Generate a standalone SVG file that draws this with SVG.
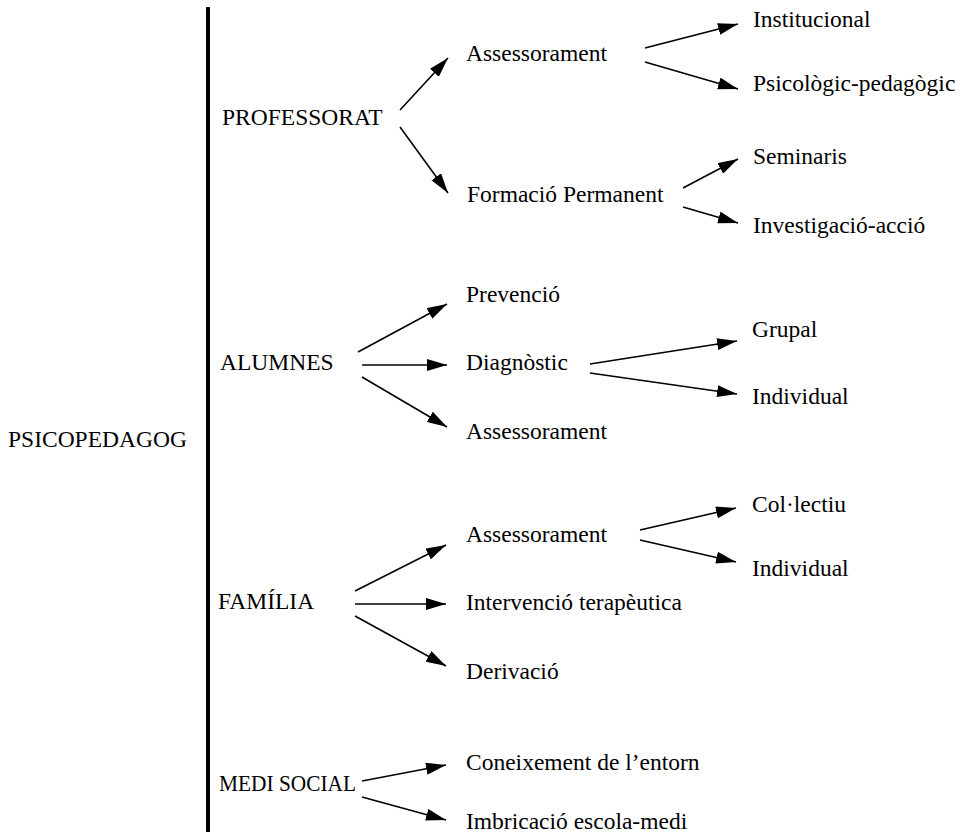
<svg xmlns="http://www.w3.org/2000/svg" width="965" height="836" viewBox="0 0 965 836">
<style>
text{font-family:"Liberation Serif","Times New Roman",serif;font-size:23.5px;fill:#000}
.c{stroke:#000;stroke-width:1.6;fill:none;marker-end:url(#ah)}
</style>
<defs>
<marker id="ah" markerUnits="userSpaceOnUse" markerWidth="20" markerHeight="12" refX="20" refY="6" orient="auto">
<path d="M0,0 L20,6 L0,12 z" fill="#000"/>
</marker>
</defs>
<rect width="965" height="836" fill="#fff"/>
<g id="bar"><line x1="208" y1="7" x2="208" y2="832" stroke="#000" stroke-width="4"/></g>
<g id="n-psicopedagog"><text x="8" y="447">PSICOPEDAGOG</text></g>
<g id="n-professorat"><text x="222" y="125">PROFESSORAT</text></g>
<g id="n-p-assessorament"><text x="466" y="61">Assessorament</text></g>
<g id="n-institucional"><text x="753" y="27">Institucional</text></g>
<g id="n-psicologic"><text x="753" y="91">Psicològic-pedagògic</text></g>
<g id="n-formacio"><text x="467" y="202">Formació Permanent</text></g>
<g id="n-seminaris"><text x="753" y="164">Seminaris</text></g>
<g id="n-investigacio"><text x="753" y="233">Investigació-acció</text></g>
<g id="n-alumnes"><text x="220" y="370">ALUMNES</text></g>
<g id="n-prevencio"><text x="466" y="302">Prevenció</text></g>
<g id="n-diagnostic"><text x="466" y="370">Diagnòstic</text></g>
<g id="n-a-assessorament"><text x="466" y="439">Assessorament</text></g>
<g id="n-grupal"><text x="752" y="337">Grupal</text></g>
<g id="n-a-individual"><text x="752" y="404">Individual</text></g>
<g id="n-familia"><text x="218" y="609">FAMÍLIA</text></g>
<g id="n-f-assessorament"><text x="466" y="542">Assessorament</text></g>
<g id="n-intervencio"><text x="466" y="610">Intervenció terapèutica</text></g>
<g id="n-derivacio"><text x="466" y="679">Derivació</text></g>
<g id="n-collectiu"><text x="752" y="512">Col·lectiu</text></g>
<g id="n-f-individual"><text x="752" y="576">Individual</text></g>
<g id="n-medi"><text x="219" y="791" textLength="137" lengthAdjust="spacingAndGlyphs">MEDI SOCIAL</text></g>
<g id="n-coneixement"><text x="466" y="770">Coneixement de l’entorn</text></g>
<g id="n-imbricacio"><text x="466" y="829">Imbricació escola-medi</text></g>
<g id="connectors">
<line class="c" x1="400" y1="110" x2="448" y2="58"/>
<line class="c" x1="400" y1="127" x2="448" y2="193"/>
<line class="c" x1="645" y1="48" x2="738" y2="24"/>
<line class="c" x1="645" y1="62" x2="738" y2="89"/>
<line class="c" x1="683" y1="188" x2="738" y2="159"/>
<line class="c" x1="683" y1="207" x2="738" y2="223"/>
<line class="c" x1="358" y1="352" x2="447" y2="304"/>
<line class="c" x1="362" y1="365" x2="447" y2="365"/>
<line class="c" x1="362" y1="377" x2="447" y2="427"/>
<line class="c" x1="590" y1="364" x2="737" y2="341"/>
<line class="c" x1="590" y1="373" x2="737" y2="394"/>
<line class="c" x1="355" y1="591" x2="446" y2="545"/>
<line class="c" x1="355" y1="604" x2="446" y2="604"/>
<line class="c" x1="355" y1="616" x2="446" y2="666"/>
<line class="c" x1="640" y1="530" x2="736" y2="508"/>
<line class="c" x1="640" y1="540" x2="736" y2="562"/>
<line class="c" x1="362" y1="781" x2="446" y2="765"/>
<line class="c" x1="362" y1="797" x2="446" y2="820"/>
</g>
</svg>
